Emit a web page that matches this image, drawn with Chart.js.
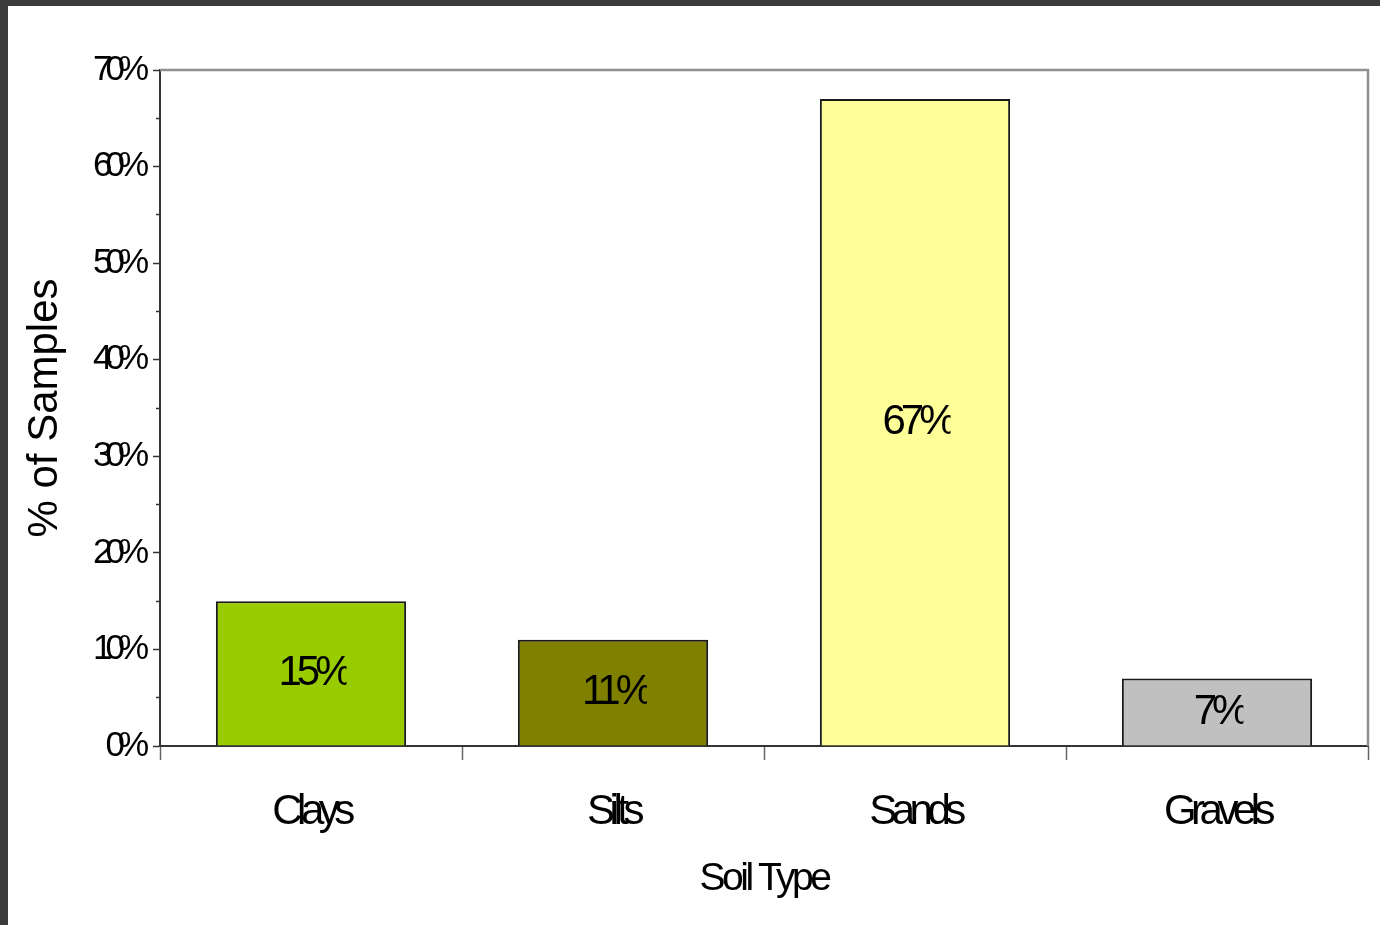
<!DOCTYPE html>
<html>
<head>
<meta charset="utf-8">
<script src="https://cdn.jsdelivr.net/npm/chart.js@4/dist/chart.umd.min.js"></script>
<style>
  html, body { margin: 0; padding: 0; background: #3b3b3b; width: 1380px; height: 925px; overflow: hidden; }
  #frame { position: absolute; left: 8px; top: 6px; width: 1372px; height: 919px; background: #ffffff; }
  canvas { display: block; }
</style>
</head>
<body>
<div id="frame"><canvas id="chart" width="1372" height="919"></canvas></div>
<script>
// Share of samples by soil type
const soilTypes = ['Clays', 'Silts', 'Sands', 'Gravels'];
const sampleShare = [15, 11, 67, 7];
const barColors = ['#99cc00', '#808000', '#ffff99', '#c0c0c0'];
const yTickValues = [0, 10, 20, 30, 40, 50, 60, 70];

const FONT = '"Liberation Sans", Arial, Helvetica, sans-serif';

// Tight letter spacing for scale labels and titles
const spacingPlugin = {
  id: 'tightText',
  beforeDraw(chart) {
    const setup = (scale, labelSp, titleSp) => {
      if (!scale || scale.__tight) return;
      scale.__tight = true;
      const origLabels = scale.drawLabels;
      const origTitle = scale.drawTitle;
      scale.drawLabels = function (area) {
        const ctx = this.ctx;
        const prev = ctx.letterSpacing;
        ctx.letterSpacing = labelSp;
        origLabels.call(this, area);
        ctx.letterSpacing = prev || '0px';
      };
      scale.drawTitle = function () {
        const ctx = this.ctx;
        const prev = ctx.letterSpacing;
        ctx.letterSpacing = titleSp;
        origTitle.call(this);
        ctx.letterSpacing = prev || '0px';
      };
    };
    setup(chart.scales.x, '-5.5px', '-3.5px');
    setup(chart.scales.y, '-7px', '0px');
  }
};

// Outline on the top and right of the plot area
const outlinePlugin = {
  id: 'plotOutline',
  beforeDatasetsDraw(chart) {
    const { ctx, chartArea: a } = chart;
    ctx.save();
    ctx.strokeStyle = '#8f8f8f';
    ctx.lineWidth = 2.5;
    ctx.beginPath();
    ctx.moveTo(a.left, a.top);
    ctx.lineTo(a.right, a.top);
    ctx.lineTo(a.right, a.bottom);
    ctx.stroke();
    ctx.restore();
  }
};

// Value labels inside each bar
const valueLabelPlugin = {
  id: 'valueLabels',
  afterDatasetsDraw(chart) {
    const { ctx } = chart;
    const meta = chart.getDatasetMeta(0);
    ctx.save();
    ctx.font = '42px ' + FONT;
    ctx.letterSpacing = '-5px';
    ctx.fillStyle = '#000000';
    ctx.textBaseline = 'middle';
    ctx.textAlign = 'left';
    meta.data.forEach((bar, i) => {
      const text = sampleShare[i] + '%';
      const w = ctx.measureText(text).width;
      const cx = bar.x;
      const cy = (bar.y + bar.base) / 2;
      const x0 = cx - w / 2 + 2;
      ctx.save();
      ctx.beginPath();
      ctx.rect(x0 - 10, cy - 40, w + 10 - 1, 80);
      ctx.clip();
      ctx.fillText(text, x0, cy);
      ctx.restore();
    });
    ctx.restore();
  }
};

new Chart(document.getElementById('chart'), {
  type: 'bar',
  data: {
    labels: soilTypes,
    datasets: [{
      data: sampleShare,
      backgroundColor: barColors,
      borderColor: '#1a1a1a',
      borderWidth: 2,
      categoryPercentage: 1.0,
      barPercentage: 0.63
    }]
  },
  options: {
    responsive: false,
    animation: false,
    layout: { padding: { top: 64, right: 12, left: 0, bottom: 0 } },
    plugins: {
      legend: { display: false },
      tooltip: { enabled: false }
    },
    scales: {
      x: {
        offset: true,
        grid: {
          offset: true,
          drawOnChartArea: false,
          drawTicks: true,
          tickLength: 14,
          tickColor: '#666666',
          tickWidth: 1.5
        },
        border: { display: true, color: '#333333', width: 2 },
        ticks: {
          color: '#000000',
          font: { family: FONT, size: 42 },
          padding: 27,
          maxRotation: 0,
          minRotation: 0,
          autoSkip: false
        },
        title: {
          display: true,
          text: 'Soil Type',
          color: '#000000',
          font: { family: FONT, size: 39 },
          padding: { top: 0, bottom: 22 }
        },
        afterFit(scale) { scale.height = 179; }
      },
      y: {
        min: 0,
        max: 70,
        grid: {
          drawOnChartArea: false,
          drawTicks: true,
          tickLength: 7,
          tickColor: '#333333',
          tickWidth: 1.5,
          tickBorderDash: (c) => (c.tick && c.tick.value % 10 !== 0) ? [0, 3, 20, 0] : []
        },
        border: { display: true, color: '#333333', width: 2 },
        ticks: {
          stepSize: 5,
          color: '#000000',
          font: { family: FONT, size: 35 },
          padding: 11,
          callback: (v) => yTickValues.includes(v) ? v + '%' : ''
        },
        title: {
          display: true,
          text: '% of Samples',
          color: '#000000',
          font: { family: FONT, size: 42 },
          padding: { top: 12, bottom: 0 }
        },
        afterFit(scale) { scale.width = 152; }
      }
    }
  },
  plugins: [spacingPlugin, outlinePlugin, valueLabelPlugin]
});
</script>
</body>
</html>
